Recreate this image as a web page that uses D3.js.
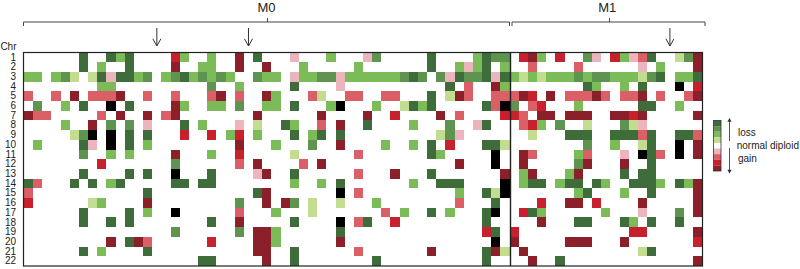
<!DOCTYPE html>
<html>
<head>
<meta charset="utf-8">
<script src="https://cdn.jsdelivr.net/npm/d3@7"></script>
<style>
  html, body { margin: 0; padding: 0; background: #fff; }
  svg { display: block; }
  text { font-family: "Liberation Sans", sans-serif; fill: #222; }
</style>
</head>
<body>
<div id="chart"></div>
<script>
// Data
const chromosomes = d3.range(1, 23).map(String);
const sampleCount = 74;
const m0Count = 53;

// copy number state per cell, "<column><state>", blank cells are normal diploid
const chrCells = [
  '6D 9D 10G 11D 16r 17G 20G 23d 25D 29p 33G 37p 38M 44D 49G 50D 51M 52M 54r 55d 56G 58r 61M 62p 64r 65G 66p 67s 68D 71P 72M 73d',
  '6D 8G 11D 16d 19G 20G 23d 26d 30G 36G 44D 47G 48p 49G 50D 52G 55s 60s 67p 69G 73d',
  '0G 1G 3G 4M 5P 7P 8D 9p 10D 11D 12G 13M 15G 16M 17D 18G 19M 20G 21M 22G 25M 26G 27G 29p 30G 31G 32M 33M 34p 35G 36G 37G 38G 39G 40G 41M 42D 43M 45M 46p 47D 48M 49M 50D 51p 52D 53G 54P 55G 56P 57G 58G 59G 60M 61G 62M 63M 64G 65G 66G 67P 68M 69D 71G 72G 73D',
  '8G 9G 20M 23G 29D 34p 46D 48s 51d 52G 61D 62G 65G 67D 71K 73r',
  '0s 3s 5d 7s 8s 9s 10d 13s 16s 20s 21d 23s 26d 27G 31s 32P 35s 36s 39s 40s 44D 46P 47d 48s 51s 52s 53s 54d 55r 57d 59s 60s 61s 62d 63s 65s 66s 67d 69s 72s 73d',
  '1M 4G 6D 9K 11D 16d 17G 20G 21G 23M 26G 27G 29D 33G 34K 38G 41P 42D 43G 44D 50D 51s 52K 53M 55s 56r 60G 67D 68D 71G',
  '0d 1s 2s 8s 10d 13d 15s 16d 25d 32d 37d 40r 45d 47s 52r 53r 54s 56d 57d 59d 60d 61d 64d 65d 66r 67d 73d',
  '4G 7d 9M 11M 13p 17D 19G 23p 25P 28D 29G 32s 34d 37D 42G 46M 49p 50D 54s 55r 56G 58M 61P 65M 66P 67p',
  '5P 6M 7K 9K 11D 13D 17r 20r 22G 23r 25G 29D 31G 32D 34D 45P 46M 47p 55P 59D 60D 61D 64D 65D 66D 67s 68D 71D 72D 73s',
  '1G 6D 7p 9K 11D 13G 23d 27G 31M 34d 39G 42G 44D 46r 50D 51D 52P 61M 64G 67P 68D 71K 73d',
  '6M 9G 11G 16d 20G 23r 29P 36s 44D 45G 51K 54d 55s 60G 61s 65p 67K 68D 69s 71K 73d',
  '8r 16M 23s 25d 30s 32d 47d 51K 54d 60M 61d 65d 68D',
  '6D 11D 13D 16K 20D 25p 26d 29D 36s 40d 44D 52d 54G 55d 59G 60d 65D 67D 68D',
  '0D 1s 5D 7D 9G 10D 16D 17D 19D 20D 29G 32G 34D 42G 45D 46D 47D 52K 54G 55D 56D 58G 59D 60D 62D 63G 66D 67D 68D 69G 71D 72G 73d',
  '0s 13D 25D 26d 34K 36s 47G 50D 51P 52K 60G 61D 65G 68D 73d',
  '0r 7P 8G 13d 23M 26d 28d 29M 31P 34P 38G 47s 51D 56r 59d 60d 62r 67d 73d',
  '6D 11D 13G 16K 23s 27G 31P 39s 41G 44D 46G 50D 51K 54r 55D 56G 63G 67p 71M 73d',
  '6D 9D 11D 20D 23d 29D 34K 36s 37D 40r 50D 56d 60D 61D 65D 66G 68D 71D',
  '16M 23M 25d 26d 27G 34D 50r 51D 53r 66r 67r 73d',
  '9d 11D 12d 13s 20r 25d 26d 27G 34d 51K 53d 59d 60d 61d 65d 73r',
  '6D 8G 13D 25d 26d 29D 36s 44d 50D 51d 52P 54d 67P 68D',
  '19D 20D 26d 29D 38D 50D 55d 58D 73d'
];

const states = ['D', 'M', 'G', 'P', 'W', 'p', 's', 'r', 'd', 'K'];
const stateColors = ['#3f6c3b', '#5f9450', '#7bbb58', '#c2dc90', '#ffffff', '#ecb4bc', '#db5f66', '#c8202c', '#8b1f2a', '#000000'];
const legendStates = ['D', 'M', 'G', 'P', 'W', 'p', 's', 'r', 'd'];
const legendLabels = ['loss', 'normal diploid', 'gain'];
const groups = [{name: 'M0', from: 0, to: m0Count}, {name: 'M1', from: m0Count, to: sampleCount}];
const arrowSamples = [14.5, 24.5, 70.5];

// Setup
const w = 800, h = 269;
const margin = {left: 24, right: 702, top: 52.5, bottom: 266};

const x = d3.scaleLinear().domain([0, sampleCount]).range([margin.left, margin.right]);
const y = d3.scaleBand().domain(chromosomes).range([margin.top, margin.bottom]);
const color = d3.scaleOrdinal(states, stateColors);

const svg = d3.select('#chart')
              .append('svg')
              .attr('width', w)
              .attr('height', h);

const defs = svg.append('defs');
defs.append('marker')
    .attr('id', 'head')
    .attr('viewBox', '0 0 10 10')
    .attr('refX', 9)
    .attr('refY', 5)
    .attr('markerWidth', 9)
    .attr('markerHeight', 9)
    .attr('markerUnits', 'userSpaceOnUse')
    .attr('orient', 'auto')
    .append('path')
    .attr('d', 'M1,0.5L9,5L1,9.5')
    .attr('fill', 'none')
    .attr('stroke', '#333')
    .attr('stroke-width', 1.1);

// Munge the cell strings
const cells = chrCells.flatMap((row, i) => row.split(' ').map(token => ({
  chr: chromosomes[i],
  sample: parseInt(token, 10),
  state: token.slice(-1),
})));

// Cells
svg.append('g')
   .selectAll('rect')
   .data(cells)
   .enter()
   .append('rect')
   .attr('x', d => x(d.sample))
   .attr('y', d => y(d.chr))
   .attr('width', x(1) - x(0))
   .attr('height', y.bandwidth())
   .attr('fill', d => color(d.state))
   .attr('shape-rendering', 'crispEdges');

// Frame and the M0/M1 divider
svg.append('rect')
   .attr('x', margin.left - 0.5)
   .attr('y', margin.top)
   .attr('width', margin.right - margin.left + 1)
   .attr('height', margin.bottom - margin.top)
   .attr('fill', 'none')
   .attr('stroke', '#222')
   .attr('stroke-width', 1.2);

svg.append('line')
   .attr('x1', 510.5)
   .attr('x2', 510.5)
   .attr('y1', margin.top)
   .attr('y2', margin.bottom)
   .attr('stroke', '#222')
   .attr('stroke-width', 1.4);

// Chromosome labels
const yAxis = svg.append('g')
   .attr('transform', `translate(${margin.left - 1},0)`)
   .call(d3.axisLeft(y).tickSize(0).tickPadding(7));
yAxis.select('.domain').remove();
yAxis.selectAll('text').style('font-size', '10px').style('font-family', '"Liberation Sans", sans-serif').attr('fill', '#222');

svg.append('text')
   .attr('x', 16.5)
   .attr('y', 49.5)
   .attr('text-anchor', 'end')
   .style('font-size', '10px')
   .text('Chr');

// Group brackets
const bracketX = d3.scaleLinear().domain([0, m0Count, sampleCount]).range([23.5, 509.5, 705]);
const bracket = svg.selectAll('.bracket')
   .data(groups)
   .enter()
   .append('g')
   .attr('class', 'bracket');

bracket.append('path')
   .attr('fill', 'none')
   .attr('stroke', '#444')
   .attr('stroke-width', 1)
   .attr('d', d => {
     const x0 = bracketX(d.from) + (d.from ? 2.5 : 0);
     const x1 = bracketX(d.to);
     const mid = Math.round((x0 + x1) / 2) + 0.5;
     return `M${x0},26V22H${x1}V26M${mid},22V18`;
   });

bracket.append('text')
   .attr('x', d => (bracketX(d.from) + bracketX(d.to)) / 2)
   .attr('y', 12)
   .attr('text-anchor', 'middle')
   .style('font-size', '13px')
   .text(d => d.name);

// Arrows over the picked samples
svg.selectAll('.pick')
   .data(arrowSamples)
   .enter()
   .append('line')
   .attr('class', 'pick')
   .attr('x1', d => x(d))
   .attr('x2', d => x(d))
   .attr('y1', 28)
   .attr('y2', 46)
   .attr('stroke', '#333')
   .attr('stroke-width', 1)
   .attr('marker-end', 'url(#head)');

// Legend
const legendY = d3.scaleBand().domain(legendStates).range([120.5, 171]);

svg.append('g')
   .selectAll('rect')
   .data(legendStates)
   .enter()
   .append('rect')
   .attr('x', 713.5)
   .attr('y', d => legendY(d))
   .attr('width', 7.5)
   .attr('height', legendY.bandwidth())
   .attr('fill', d => color(d));

svg.append('rect')
   .attr('x', 713.5)
   .attr('y', 120.5)
   .attr('width', 7.5)
   .attr('height', 50.5)
   .attr('fill', 'none')
   .attr('stroke', '#333')
   .attr('stroke-width', 0.8);

[[141, 120.5], [148, 171]].forEach(([from, to]) => {
  svg.append('line')
     .attr('x1', 729.5)
     .attr('x2', 729.5)
     .attr('y1', from)
     .attr('y2', to)
     .attr('stroke', '#555')
     .attr('stroke-width', 1);
  svg.append('path')
     .attr('d', d3.symbol(d3.symbolTriangle, 8)())
     .attr('transform', `translate(729.5,${to}) rotate(${to < from ? 0 : 180})`)
     .attr('fill', '#333');
});

svg.selectAll('.legend-label')
   .data(legendLabels)
   .enter()
   .append('text')
   .attr('class', 'legend-label')
   .attr('x', (d, i) => i === 1 ? 736.7 : 738)
   .attr('y', (d, i) => 135.5 + i * 13)
   .style('font-size', '10px')
   .text(d => d);
</script>
</body>
</html>
